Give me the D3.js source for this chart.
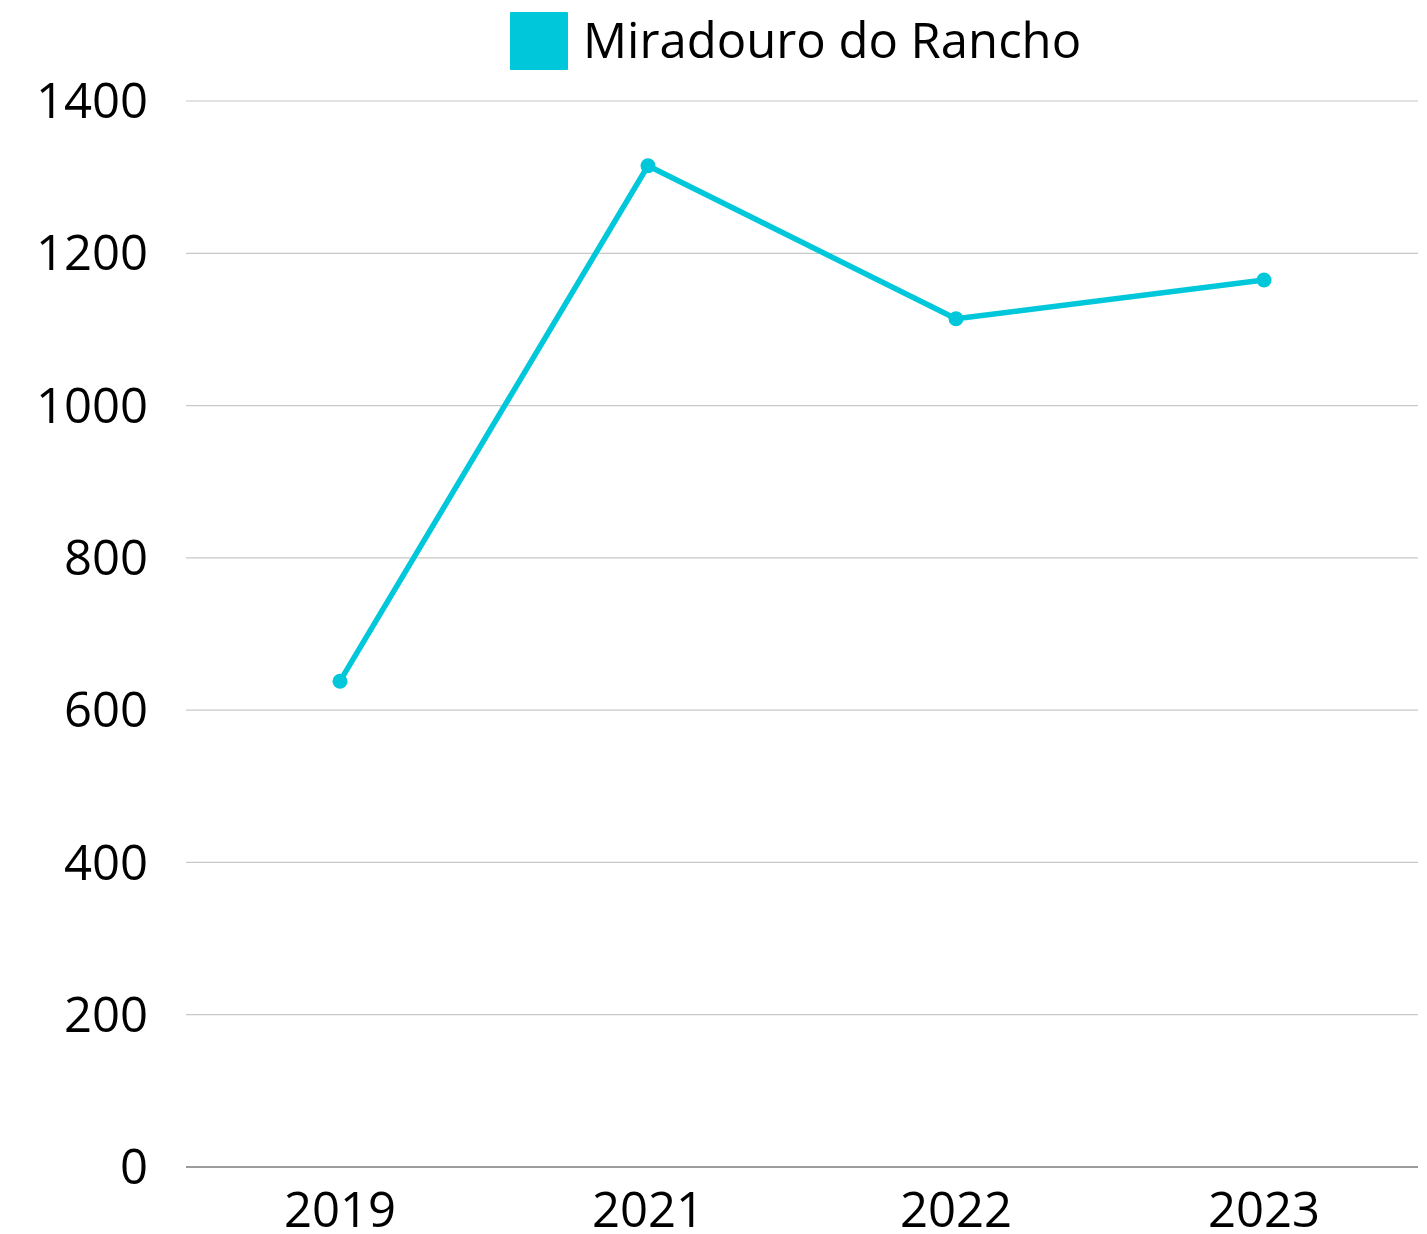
<!DOCTYPE html>
<html>
<head>
<meta charset="utf-8">
<script src="https://cdn.jsdelivr.net/npm/d3@7"></script>
<style>
  html, body { margin: 0; padding: 0; background: #fff; }
  text { font-family: 'Open Sans', 'Noto Sans', sans-serif; fill: #000; }
</style>
</head>
<body>
<div id="chart"></div>
<script>
const seriesName = 'Miradouro do Rancho';
const years = ['2019', '2021', '2022', '2023'];
const visitors = [638, 1315, 1114, 1165];
const yTicks = [0, 200, 400, 600, 800, 1000, 1200, 1400];

const width = 1427;
const height = 1234;
const margin = { top: 101, right: 9, bottom: 67, left: 186 };
const innerW = width - margin.left - margin.right;
const innerH = height - margin.top - margin.bottom;
const color = '#00c8da';
const fontSize = '49px';

const svg = d3.select('#chart').append('svg')
  .attr('width', width)
  .attr('height', height);

const g = svg.append('g')
  .attr('transform', 'translate(' + margin.left + ',' + margin.top + ')');

const x = d3.scalePoint().domain(years).range([0, innerW]).padding(0.5);
const y = d3.scaleLinear().domain([0, 1400]).range([innerH, 0]);

// gridlines
g.append('g')
  .selectAll('line')
  .data(yTicks.filter(d => d > 0))
  .join('line')
  .attr('x1', 0)
  .attr('x2', innerW)
  .attr('y1', d => y(d))
  .attr('y2', d => y(d))
  .attr('stroke', '#c8c8c8')
  .attr('stroke-width', 1.2);

// baseline
g.append('line')
  .attr('x1', 0).attr('x2', innerW)
  .attr('y1', y(0)).attr('y2', y(0))
  .attr('stroke', '#7a7a7a')
  .attr('stroke-width', 1.5);

// y labels
g.append('g')
  .selectAll('text')
  .data(yTicks)
  .join('text')
  .attr('x', -38)
  .attr('y', d => y(d))
  .attr('dy', '0.35em')
  .attr('text-anchor', 'end')
  .style('font-size', fontSize)
  .text(d => d);

// x labels
g.append('g')
  .selectAll('text')
  .data(years)
  .join('text')
  .attr('x', d => x(d))
  .attr('y', innerH + 60)
  .attr('text-anchor', 'middle')
  .style('font-size', fontSize)
  .text(d => d);

const data = years.map((yr, i) => ({ year: yr, value: visitors[i] }));

const line = d3.line()
  .x(d => x(d.year))
  .y(d => y(d.value));

g.append('path')
  .datum(data)
  .attr('fill', 'none')
  .attr('stroke', color)
  .attr('stroke-width', 5.5)
  .attr('stroke-linejoin', 'round')
  .attr('d', line);

g.append('g')
  .selectAll('circle')
  .data(data)
  .join('circle')
  .attr('cx', d => x(d.year))
  .attr('cy', d => y(d.value))
  .attr('r', 7.5)
  .attr('fill', color);

// legend
const legend = svg.append('g').attr('transform', 'translate(510,12)');
legend.append('rect')
  .attr('width', 58)
  .attr('height', 58)
  .attr('rx', 1)
  .attr('fill', color);
legend.append('text')
  .attr('x', 73)
  .attr('y', 29)
  .attr('dy', '0.35em')
  .style('font-size', fontSize)
  .text(seriesName);
</script>
</body>
</html>
